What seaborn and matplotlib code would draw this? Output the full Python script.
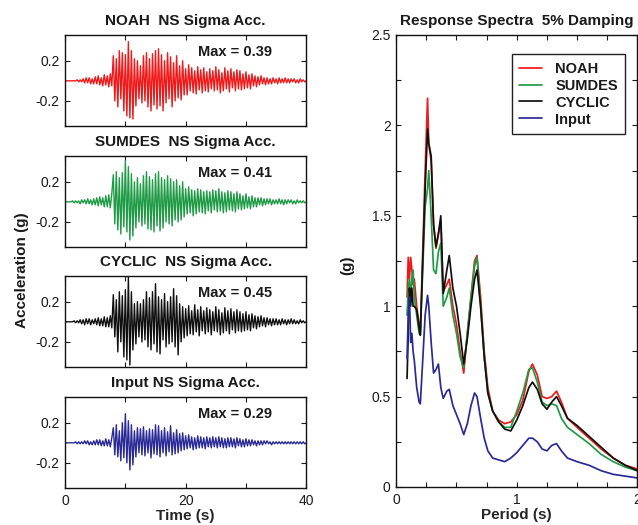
import numpy as np
import pandas as pd
import seaborn as sns
import matplotlib.pyplot as plt

# ---- acceleration time histories (g), sampled every 0.25 s from 0 to 40 s
dt = 0.25
noah_acc = [
    0, 0, 0, 0, 0, 0, 0, 0, 0.01, -0.01, 0.01, -0.01, 0.02, -0.02, 0.03, -0.02, 0.03, -0.03, 0.02, -0.03,
    0.04, -0.03, 0.05, -0.04, 0.03, -0.05, 0.06, -0.04, 0.05, -0.06, 0.07, -0.05, 0.25, -0.2, 0.22, -0.26, 0.3, -0.18, 0.28, -0.3,
    0.26, -0.35, 0.39, -0.37, 0.3, -0.38, 0.22, -0.25, 0.2, -0.18, 0.15, -0.22, 0.25, -0.2, 0.28, -0.26, 0.22, -0.3, 0.27, -0.24,
    0.3, -0.28, 0.32, -0.25, 0.26, -0.3, 0.2, -0.22, 0.28, -0.18, 0.24, -0.26, 0.18, -0.2, 0.25, -0.17, 0.15, -0.19, 0.2, -0.14,
    0.12, -0.14, 0.16, -0.1, 0.13, -0.12, 0.1, -0.13, 0.14, -0.09, 0.11, -0.12, 0.13, -0.1, 0.09, -0.11, 0.12, -0.08, 0.1, -0.1,
    0.14, -0.09, 0.11, -0.12, 0.08, -0.1, 0.13, -0.08, 0.1, -0.11, 0.12, -0.07, 0.09, -0.1, 0.11, -0.08, 0.1, -0.09, 0.07, -0.08,
    0.09, -0.07, 0.06, -0.08, 0.07, -0.05, 0.05, -0.06, 0.04, -0.04, 0.05, -0.03, 0.03, -0.04, 0.03, -0.03, 0.02, -0.03, 0.03, -0.02,
    0.02, -0.03, 0.03, -0.02, 0.02, -0.02, 0.03, -0.02, 0.02, -0.02, 0.02, -0.01, 0.02, -0.02, 0.01, -0.02, 0.02, -0.01, 0.01, -0.01,
    0]
sumdes_acc = [
    0, 0, 0, 0, 0, 0.01, -0.01, 0.01, -0.01, 0.01, -0.02, 0.02, -0.01, 0.02, -0.02, 0.03, -0.02, 0.02, -0.03, 0.03,
    -0.03, 0.04, -0.04, 0.05, -0.03, 0.04, -0.05, 0.06, -0.05, 0.07, -0.06, 0.08, 0.27, -0.22, 0.3, -0.28, 0.24, -0.32, 0.29, -0.25,
    0.41, -0.3, 0.35, -0.38, 0.28, -0.34, 0.2, -0.26, 0.24, -0.2, 0.18, -0.24, 0.26, -0.22, 0.3, -0.27, 0.25, -0.28, 0.22, -0.3,
    0.28, -0.24, 0.3, -0.29, 0.24, -0.26, 0.22, -0.2, 0.26, -0.22, 0.23, -0.24, 0.2, -0.18, 0.22, -0.2, 0.16, -0.18, 0.2, -0.15,
    0.13, -0.12, 0.15, -0.11, 0.12, -0.14, 0.11, -0.12, 0.13, -0.1, 0.12, -0.11, 0.1, -0.12, 0.11, -0.09, 0.1, -0.11, 0.12, -0.08,
    0.11, -0.1, 0.13, -0.09, 0.1, -0.11, 0.09, -0.1, 0.11, -0.08, 0.1, -0.09, 0.08, -0.1, 0.1, -0.07, 0.08, -0.08, 0.06, -0.07,
    0.08, -0.06, 0.05, -0.07, 0.06, -0.05, 0.04, -0.05, 0.04, -0.03, 0.04, -0.04, 0.03, -0.03, 0.03, -0.02, 0.03, -0.03, 0.02, -0.02,
    0.02, -0.02, 0.03, -0.02, 0.02, -0.03, 0.02, -0.02, 0.02, -0.01, 0.02, -0.02, 0.01, -0.02, 0.02, -0.01, 0.01, -0.01, 0.01, -0.01,
    0]
cyclic_acc = [
    0, 0, 0, 0, 0, 0, 0.01, -0.01, 0.01, -0.01, 0.02, -0.02, 0.02, -0.03, 0.03, -0.02, 0.03, -0.03, 0.02, -0.02,
    0.03, -0.03, 0.04, -0.04, 0.03, -0.04, 0.05, -0.05, 0.04, -0.05, 0.06, -0.06, 0.27, -0.15, 0.22, -0.3, 0.3, -0.2, 0.26, -0.35,
    0.32, -0.38, 0.45, -0.43, 0.3, -0.28, 0.18, -0.22, 0.2, -0.15, 0.18, -0.2, 0.22, -0.18, 0.3, -0.25, 0.24, -0.28, 0.3, -0.22,
    0.38, -0.3, 0.25, -0.32, 0.22, -0.18, 0.28, -0.25, 0.2, -0.22, 0.25, -0.2, 0.33, -0.25, 0.26, -0.33, 0.18, -0.2, 0.15, -0.16,
    0.13, -0.14, 0.16, -0.12, 0.11, -0.13, 0.17, -0.1, 0.12, -0.14, 0.15, -0.09, 0.11, -0.12, 0.14, -0.1, 0.12, -0.13, 0.1, -0.09,
    0.15, -0.1, 0.12, -0.13, 0.09, -0.11, 0.14, -0.09, 0.11, -0.12, 0.13, -0.08, 0.1, -0.11, 0.12, -0.09, 0.1, -0.1, 0.08, -0.09,
    0.1, -0.08, 0.07, -0.09, 0.08, -0.06, 0.06, -0.07, 0.05, -0.05, 0.06, -0.04, 0.04, -0.05, 0.04, -0.03, 0.03, -0.04, 0.03, -0.03,
    0.03, -0.03, 0.02, -0.03, 0.03, -0.02, 0.02, -0.03, 0.02, -0.02, 0.03, -0.02, 0.02, -0.02, 0.01, -0.02, 0.02, -0.01, 0.01, -0.01,
    0]
input_acc = [
    0, 0, 0, 0, 0, 0, 0, 0.01, -0.01, 0.01, -0.01, 0.01, -0.01, 0.02, -0.01, 0.02, -0.02, 0.01, -0.02, 0.02,
    -0.02, 0.03, -0.02, 0.03, -0.03, 0.02, -0.03, 0.04, -0.03, 0.03, -0.04, 0.05, 0.15, -0.12, 0.18, -0.14, 0.12, -0.18, 0.2, -0.15,
    0.29, -0.2, 0.22, -0.27, 0.18, -0.22, 0.12, -0.14, 0.15, -0.1, 0.14, -0.12, 0.16, -0.13, 0.12, -0.1, 0.14, -0.15, 0.13, -0.11,
    0.18, -0.12, 0.17, -0.14, 0.12, -0.1, 0.15, -0.13, 0.11, -0.09, 0.17, -0.12, 0.1, -0.11, 0.13, -0.1, 0.09, -0.08, 0.1, -0.07,
    0.07, -0.06, 0.08, -0.05, 0.06, -0.07, 0.05, -0.06, 0.07, -0.05, 0.06, -0.05, 0.05, -0.06, 0.06, -0.04, 0.05, -0.05, 0.06, -0.04,
    0.05, -0.05, 0.06, -0.04, 0.05, -0.05, 0.04, -0.05, 0.05, -0.04, 0.05, -0.04, 0.04, -0.05, 0.05, -0.03, 0.04, -0.04, 0.03, -0.04,
    0.04, -0.03, 0.03, -0.03, 0.03, -0.02, 0.02, -0.03, 0.02, -0.02, 0.02, -0.02, 0.02, -0.01, 0.02, -0.01, 0.01, -0.02, 0.01, -0.01,
    0.01, -0.01, 0.01, -0.01, 0.01, -0.01, 0.01, -0.01, 0.01, -0.01, 0.01, -0.01, 0.01, -0.01, 0.01, -0.01, 0.01, -0.01, 0.01, -0.01,
    0]

acc_names = ['NOAH', 'SUMDES', 'CYCLIC', 'Input']
acc_titles = ['NOAH  NS Sigma Acc.', 'SUMDES  NS Sigma Acc.',
              'CYCLIC  NS Sigma Acc.', 'Input NS Sigma Acc.']
acc_max = [0.39, 0.41, 0.45, 0.29]

# ---- response spectra, 5% damping (g)
period = [0.09, 0.10, 0.11, 0.12, 0.13, 0.14, 0.15, 0.17, 0.19, 0.20,
          0.22, 0.24, 0.26, 0.27, 0.29, 0.31, 0.33, 0.35, 0.37, 0.39,
          0.42, 0.44, 0.47, 0.50, 0.53, 0.56, 0.59, 0.62, 0.65, 0.67,
          0.70, 0.73, 0.76, 0.80, 0.85, 0.90, 0.95, 1.00, 1.05, 1.10,
          1.13, 1.17, 1.21, 1.25, 1.29, 1.33, 1.37, 1.42, 1.50, 1.60,
          1.70, 1.80, 1.90, 2.00]
noah_sa = [1.05, 1.27, 1.15, 1.27, 1.2, 1.12, 1.15, 1.0, 0.9, 0.86,
           1.3, 1.75, 2.15, 1.9, 1.8, 1.45, 1.32, 1.4, 1.47, 1.08,
           1.12, 1.15, 1.0, 0.9, 0.75, 0.63, 0.85, 1.05, 1.25, 1.28,
           1.05, 0.75, 0.55, 0.42, 0.37, 0.35, 0.36, 0.4, 0.48, 0.64,
           0.68, 0.62, 0.5, 0.49, 0.5, 0.53, 0.47, 0.38, 0.33, 0.27,
           0.21, 0.16, 0.12, 0.10]
sumdes_sa = [0.95, 1.1, 1.15, 1.05, 1.15, 1.2, 1.05, 0.95, 0.85, 0.84,
             1.2, 1.55, 1.65, 1.75, 1.5, 1.2, 1.18, 1.3, 1.35, 1.0,
             1.05, 1.1, 0.95, 0.85, 0.72, 0.66, 0.85, 1.05, 1.22, 1.27,
             1.0, 0.72, 0.52, 0.42, 0.36, 0.33, 0.33, 0.42, 0.52, 0.65,
             0.66, 0.58, 0.47, 0.45, 0.46, 0.45, 0.38, 0.33, 0.29, 0.24,
             0.18, 0.14, 0.11, 0.09]
cyclic_sa = [0.6, 0.85, 1.1, 1.0, 1.1, 1.0, 1.0, 0.98, 0.88, 0.84,
             1.25, 1.65, 1.98, 1.9, 1.83, 1.45, 1.33, 1.4, 1.5, 1.07,
             1.2, 1.28, 1.1, 1.0, 0.85, 0.68, 0.82, 1.0, 1.15, 1.2,
             1.0, 0.72, 0.52, 0.42, 0.36, 0.32, 0.31, 0.37, 0.45, 0.55,
             0.58, 0.54, 0.46, 0.43, 0.47, 0.5, 0.45, 0.38, 0.34, 0.28,
             0.22, 0.16, 0.12, 0.09]
input_sa = [0.71, 0.95, 1.05, 0.8, 0.85, 0.75, 0.7, 0.55, 0.47, 0.46,
            0.7, 0.95, 1.06, 1.0, 0.8, 0.63, 0.65, 0.68, 0.55, 0.49,
            0.53, 0.54, 0.45, 0.40, 0.35, 0.29, 0.35, 0.45, 0.52, 0.5,
            0.38, 0.27, 0.2, 0.16, 0.15, 0.14, 0.16, 0.19, 0.23, 0.27,
            0.27, 0.25, 0.21, 0.2, 0.23, 0.24, 0.2, 0.16, 0.14, 0.12,
            0.09, 0.07, 0.06, 0.05]

colors = {'NOAH': '#f01818', 'SUMDES': '#1f9a45',
          'CYCLIC': '#101010', 'Input': '#2a2a96'}
text_color = '#1a1a1a'

sns.set_style("ticks")
plt.rcParams['font.family'] = ['Liberation Sans', 'DejaVu Sans']
plt.rcParams['axes.linewidth'] = 1.0
plt.rcParams['text.color'] = text_color

fig = plt.figure(figsize=(6.38, 5.25), dpi=100)


def style_ticks(ax):
    ax.tick_params(which='both', direction='in', top=True, right=True,
                   length=3.5, width=0.8, labelsize=10,
                   colors=text_color, pad=4)
    for s in ax.spines.values():
        s.set_color('#111111')


# ---- left: four acceleration panels
acc_series = [noah_acc, sumdes_acc, cyclic_acc, input_acc]
bottoms = [0.760, 0.5295, 0.301, 0.0705]
t = np.arange(len(noah_acc)) * dt
for i, name in enumerate(acc_names):
    ax = fig.add_axes([0.102, bottoms[i], 0.378, 0.174])
    sns.lineplot(x=t, y=acc_series[i], ax=ax, color=colors[name],
                 linewidth=1.0)
    ax.set_xlim(0, 40)
    ax.set_ylim(-0.45, 0.46)
    ax.set_xticks([0, 10, 20, 30, 40])
    ax.set_yticks([-0.2, 0.2])
    ax.set_yticklabels(['-0.2', '0.2'])
    if i == 3:
        ax.set_xticklabels(['0', '', '20', '', '40'])
        ax.set_xlabel('Time (s)', fontsize=11, fontweight='bold',
                      labelpad=1)
    else:
        ax.set_xticklabels([])
    ax.set_title(acc_titles[i], fontsize=11, fontweight='bold', pad=7)
    ax.text(0.55, 0.81, f'Max = {acc_max[i]:.2f}', transform=ax.transAxes,
            fontsize=10.5, fontweight='bold', va='center')
    style_ticks(ax)

fig.text(0.034, 0.486, 'Acceleration (g)', rotation=90, ha='center',
         va='center', fontsize=11, fontweight='bold')

# ---- right: response spectra
spec = pd.DataFrame({
    'Period': period * 4,
    'Sa': noah_sa + sumdes_sa + cyclic_sa + input_sa,
    'Model': [n for n in acc_names for _ in period],
})
ax = fig.add_axes([0.621, 0.0724, 0.378, 0.861])
sns.lineplot(data=spec, x='Period', y='Sa', hue='Model',
             palette=colors, ax=ax, linewidth=1.25)
ax.set_xlim(0, 2)
ax.set_ylim(0, 2.5)
xt = np.arange(0, 2.01, 0.25)
ax.set_xticks(xt)
ax.set_xticklabels(['0', '', '', '', '1', '', '', '', '2'])
yt = np.arange(0, 2.51, 0.25)
ax.set_yticks(yt)
ax.set_yticklabels(['0', '', '0.5', '', '1', '', '1.5', '', '2', '', '2.5'])
ax.set_xlabel('Period (s)', fontsize=11, fontweight='bold', labelpad=1)
ax.set_ylabel('')
ax.set_title('Response Spectra  5% Damping', fontsize=11,
             fontweight='bold', pad=7)
fig.text(0.545, 0.495, '(g)', rotation=90, ha='center', va='center',
         fontsize=11, fontweight='bold')
style_ticks(ax)

handles, labels = ax.get_legend_handles_labels()
leg = ax.legend(handles, labels, loc='upper right',
                bbox_to_anchor=(0.98, 0.973), frameon=True, fancybox=False,
                edgecolor='#222222', framealpha=1, handlelength=1.6,
                handletextpad=0.9, borderpad=0.5, labelspacing=0.2,
                prop={'weight': 'bold', 'size': 10.5})
leg.get_frame().set_linewidth(1.0)

fig.savefig('out.png', dpi=100)
